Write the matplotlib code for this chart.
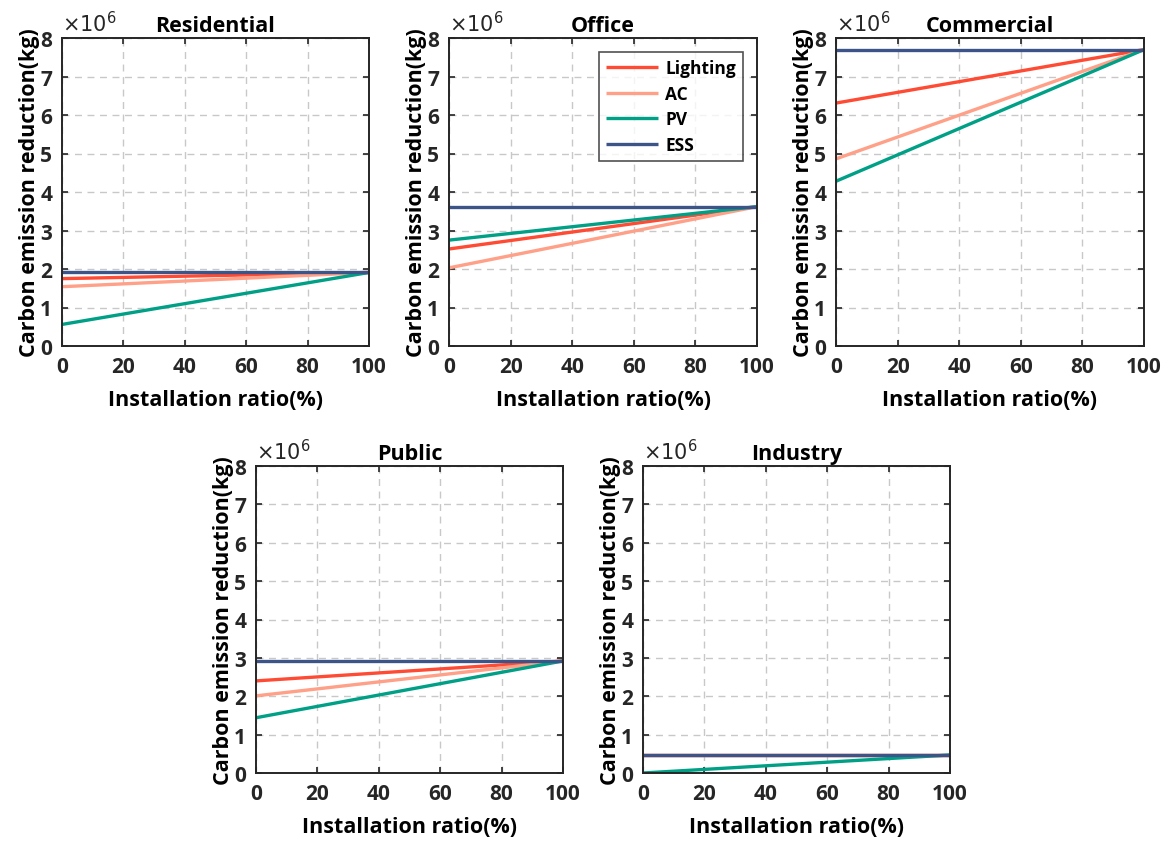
import matplotlib
matplotlib.use("Agg")
import matplotlib.pyplot as plt
import numpy as np

plt.rcParams['font.family'] = ['Open Sans', 'DejaVu Sans']

sectors = ["Residential", "Office", "Commercial", "Public", "Industry"]
series = ["Lighting", "AC", "PV", "ESS"]
x_ratio = [0, 100]
# start values (x=0) in units of 1e6 kg; all series end at the ESS value (x=100)
lighting_start = [1.75, 2.52, 6.31, 2.40, 0.47]
ac_start = [1.54, 2.03, 4.86, 2.01, 0.47]
pv_start = [0.56, 2.75, 4.28, 1.44, 0.00]
ess_value = [1.91, 3.62, 7.70, 2.92, 0.47]

colors = {"Lighting": "#FF4B33", "AC": "#FFA088", "PV": "#00A087", "ESS": "#3C5488"}

W, H = 1169, 845
fig = plt.figure(figsize=(W / 100, H / 100), dpi=100)

# axes pixel boxes: left, right, top, bottom
boxes = [
    (62, 369, 39, 347),
    (449, 757, 39, 347),
    (836, 1144, 39, 347),
    (256, 563, 467, 774),
    (643, 950, 467, 774),
]

starts = {"Lighting": lighting_start, "AC": ac_start, "PV": pv_start}

for i, name in enumerate(sectors):
    l, r, t, b = boxes[i]
    ax = fig.add_axes([l / W, 1 - b / H, (r - l) / W, (b - t) / H])
    for s in ["Lighting", "AC", "PV"]:
        ax.plot(x_ratio, np.array([starts[s][i], ess_value[i]]) * 1e6,
                color=colors[s], lw=2.4, label=s, solid_capstyle="butt")
    ax.plot(x_ratio, np.array([ess_value[i], ess_value[i]]) * 1e6,
            color=colors["ESS"], lw=2.4, label="ESS", solid_capstyle="butt")
    ax.set_xlim(0, 100)
    ax.set_ylim(0, 8e6)
    ax.set_xticks(np.arange(0, 101, 20))
    ax.set_yticks(np.arange(0, 8.01, 1) * 1e6)
    ax.set_yticklabels([str(v) for v in range(9)])
    ax.grid(True, linestyle=(0, (5, 4)), color="#c8c8c8", lw=1.0)
    ax.tick_params(direction="in", top=True, right=True, length=4, width=1.2,
                   colors="#262626", labelsize=15, pad=7)
    for lab in ax.get_xticklabels() + ax.get_yticklabels():
        lab.set_fontweight("bold")
        lab.set_color("#262626")
    for sp in ax.spines.values():
        sp.set_color("#262626")
        sp.set_linewidth(1.4)
    ax.set_title(name, fontsize=15.5, fontweight="bold", pad=5)
    ax.set_xlabel("Installation ratio(%)", fontsize=15.5, fontweight="bold", labelpad=9)
    ax.set_ylabel("Carbon emission reduction(kg)", fontsize=15.5, fontweight="bold", labelpad=0)
    ax.text(0.0, 1.01, r"$\times10^{6}$", transform=ax.transAxes, fontsize=15,
            ha="left", va="bottom", color="#262626",
            fontfamily="DejaVu Sans")
    if name == "Office":
        leg = ax.legend(loc="upper right", fontsize=12.5, frameon=True, fancybox=False,
                        edgecolor="#262626", handlelength=3.0, borderaxespad=0.8,
                        labelspacing=0.45, handletextpad=0.4)
        leg.get_frame().set_linewidth(1.2)
        for txt in leg.get_texts():
            txt.set_fontweight("bold")

fig.savefig("out.png", dpi=100, facecolor="white")
